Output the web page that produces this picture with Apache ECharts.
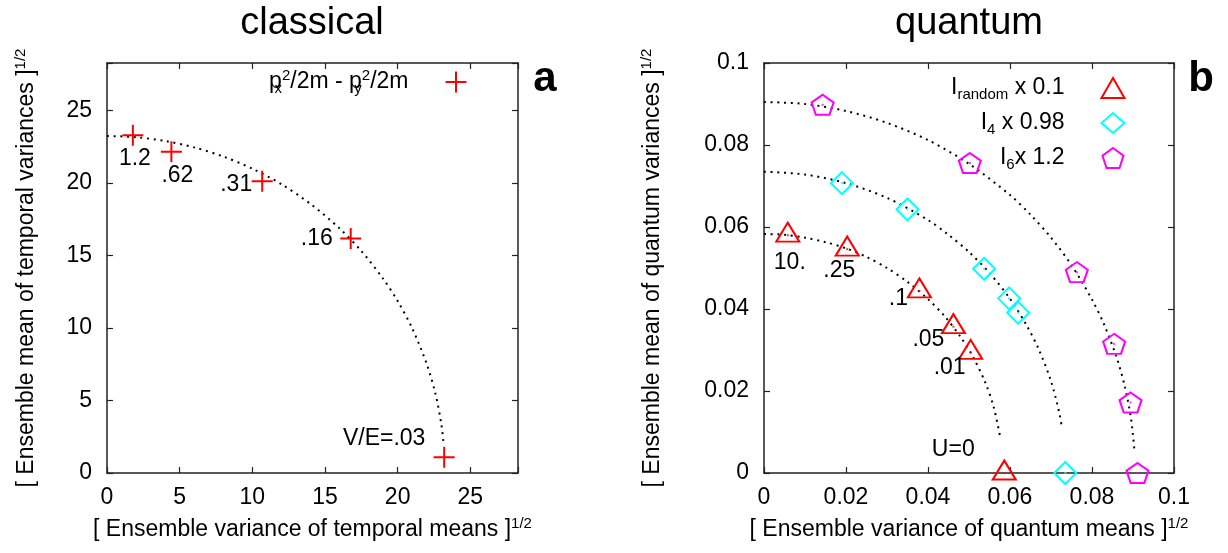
<!DOCTYPE html>
<html>
<head>
<meta charset="utf-8">
<script src="https://cdn.jsdelivr.net/npm/echarts@6/dist/echarts.min.js"></script>
<style>
  html, body { margin: 0; padding: 0; background: #fff; }
  #chart { width: 1228px; height: 553px; }
</style>
</head>
<body>
<div id="chart"></div>
<script>
const FONT = "Liberation Sans";

// panel a: classical
const classicalTicks = [0, 5, 10, 15, 20, 25];
const classicalX = [1.78, 4.43, 10.68, 16.77, 23.2];
const classicalY = [23.3, 22.16, 20.13, 16.17, 1.08];
const classicalLabels = ["1.2", ".62", ".31", ".16", "V/E=.03"];
const classicalArcX = [0, 2, 4, 6, 8, 10, 12, 14, 16, 17.5, 19, 20, 21, 22, 22.6, 23.0, 23.15];
const classicalArcY = [23.25, 23.16, 22.9, 22.46, 21.83, 20.99, 19.92, 18.56, 16.87, 15.31, 13.4, 11.86, 9.98, 7.52, 5.46, 3.41, 2.1];

// panel b: quantum
const quantumTicks = [0, 0.02, 0.04, 0.06, 0.08, 0.1];
const randomX = [0.0058, 0.0203, 0.0379, 0.0462, 0.0504, 0.0586];
const randomY = [0.058, 0.0546, 0.0444, 0.0357, 0.0294, 0];
const randomLabels = ["10.", ".25", ".1", ".05", ".01", "U=0"];
const i4X = [0.019, 0.035, 0.0537, 0.0598, 0.062, 0.0735];
const i4Y = [0.0707, 0.0643, 0.0498, 0.0426, 0.0391, 0];
const i6X = [0.0143, 0.0502, 0.0763, 0.0854, 0.0894, 0.0911];
const i6Y = [0.0898, 0.0756, 0.049, 0.0315, 0.0172, 0];
const randomArcX = [0, 0.005, 0.01, 0.015, 0.02, 0.025, 0.03, 0.035, 0.04, 0.044, 0.048, 0.051, 0.054, 0.056, 0.0576];
const randomArcY = [0.0583, 0.0581, 0.0574, 0.0563, 0.0548, 0.0527, 0.05, 0.0466, 0.0424, 0.0383, 0.0331, 0.0283, 0.022, 0.0162, 0.0088];
const i4ArcX = [0, 0.01, 0.02, 0.03, 0.04, 0.045, 0.05, 0.055, 0.06, 0.064, 0.067, 0.07, 0.072, 0.0727];
const i4ArcY = [0.0735, 0.0728, 0.0707, 0.0671, 0.0617, 0.0581, 0.0539, 0.0488, 0.0425, 0.0361, 0.0302, 0.0224, 0.0148, 0.0108];
const i6ArcX = [0, 0.01, 0.02, 0.03, 0.04, 0.05, 0.06, 0.065, 0.07, 0.075, 0.08, 0.083, 0.086, 0.088, 0.0895, 0.0903];
const i6ArcY = [0.0905, 0.09, 0.0883, 0.0854, 0.0812, 0.0754, 0.0678, 0.063, 0.0574, 0.0507, 0.0423, 0.0361, 0.0282, 0.0211, 0.0134, 0.006];

// where the point labels sit relative to their point (px)
const classicalLabelOffsets = [[2, 23], [6, 24], [-26, 3], [-34, 0], [-60, -19]];
const randomLabelOffsets = [[2, 30], [-8, 25], [-21, 11], [-25, 16], [-21, 18], [-51, -20]];

const legendNames = {
  pp: "p{sub0|x}{sup|2}/2m - p{sub0|y}{sup|2}/2m{gap|}",
  rand: "I{sub|random} x 0.1{gap|}",
  i4: "I{sub|4} x 0.98{gap|}",
  i6: "I{sub|6}x 1.2{gap|}",
};

const PLUS = "path://M0,10H20M10,0V20";
const PENTAGON = "path://M10,0L19.51,6.91L15.88,18.09L4.12,18.09L0.49,6.91Z";
const FS = 23;

const richText = {
  sup: { fontSize: 15, lineHeight: 14, verticalAlign: "top", fontFamily: FONT, color: "#000" },
  sub: { fontSize: 15, lineHeight: 12, verticalAlign: "bottom", fontFamily: FONT, color: "#000" },
  sub0: { fontSize: 15, lineHeight: 12, verticalAlign: "bottom", width: 0, fontFamily: FONT, color: "#000" },
  gap: { width: 32 },
};

function zip(xs, ys) {
  return xs.map((x, i) => [x, ys[i]]);
}

function tickFormatter(ticks) {
  return function (v) {
    const t = ticks.find((t) => Math.abs(t - v) < 1e-9);
    return t === undefined ? "" : String(t);
  };
}

function frameAxis(gridIndex, position, max, interval, ticks, showLabel) {
  return {
    type: "value",
    gridIndex: gridIndex,
    position: position,
    min: 0,
    max: max,
    interval: interval,
    axisLine: { show: true, onZero: false, lineStyle: { color: "#222", width: 1.5 } },
    axisTick: { show: true, inside: true, length: 6, lineStyle: { color: "#222", width: 1.2 } },
    axisLabel: {
      show: showLabel,
      margin: position === "bottom" ? 13 : 15,
      fontSize: FS,
      color: "#000",
      fontFamily: FONT,
      formatter: tickFormatter(ticks),
    },
    splitLine: { show: false },
  };
}

function axisName(text) {
  return {
    name: text + "{sup|1/2}",
    nameLocation: "middle",
    nameTextStyle: { fontSize: FS, lineHeight: 28, color: "#000", fontFamily: FONT, rich: richText },
  };
}

function arcSeries(xi, yi, xs, ys) {
  return {
    type: "line",
    xAxisIndex: xi,
    yAxisIndex: yi,
    data: zip(xs, ys),
    smooth: 0.3,
    showSymbol: false,
    silent: true,
    z: 1,
    lineStyle: { color: "#000", width: 2, type: [2, 4.7], cap: "butt" },
  };
}

function markerSeries(name, xi, yi, xs, ys, symbol, size, color, labels, offsets, symbolOffset) {
  return {
    name: name,
    type: "scatter",
    xAxisIndex: xi,
    yAxisIndex: yi,
    symbol: symbol,
    symbolSize: size,
    symbolOffset: symbolOffset || [0, 0],
    z: 3,
    itemStyle: { color: "none", borderColor: color, borderWidth: 2, opacity: 1 },
    data: xs.map((x, i) => {
      const item = { value: [x, ys[i]] };
      if (labels) {
        item.label = {
          show: true,
          position: "inside",
          formatter: labels[i],
          offset: offsets[i],
          fontSize: FS,
          color: "#000",
          fontFamily: FONT,
        };
      }
      return item;
    }),
  };
}

function dotSeries(xi, yi, xs, ys, color) {
  return {
    type: "scatter",
    xAxisIndex: xi,
    yAxisIndex: yi,
    symbol: "rect",
    symbolSize: 2,
    silent: true,
    z: 4,
    itemStyle: { color: color },
    data: zip(xs, ys),
  };
}

const classicalMax = 28.28;
const quantumMax = 0.1;

const xAxes = [
  Object.assign(frameAxis(0, "bottom", classicalMax, 5, classicalTicks, true), axisName("[ Ensemble variance of temporal means ]"), { nameGap: 43 }),
  frameAxis(0, "top", classicalMax, 5, classicalTicks, false),
  Object.assign(frameAxis(1, "bottom", quantumMax, 0.02, quantumTicks, true), axisName("[ Ensemble variance of quantum means ]"), { nameGap: 43 }),
  frameAxis(1, "top", quantumMax, 0.02, quantumTicks, false),
];
const yAxes = [
  Object.assign(frameAxis(0, "left", classicalMax, 5, classicalTicks, true), axisName("[ Ensemble mean of temporal variances ]"), { nameGap: 66, nameRotate: 90 }),
  frameAxis(0, "right", classicalMax, 5, classicalTicks, false),
  Object.assign(frameAxis(1, "left", quantumMax, 0.02, quantumTicks, true), axisName("[ Ensemble mean of quantum variances ]"), { nameGap: 97, nameRotate: 90 }),
  frameAxis(1, "right", quantumMax, 0.02, quantumTicks, false),
];

const legendText = {
  fontSize: FS,
  lineHeight: 28,
  color: "#000",
  fontFamily: FONT,
  rich: richText,
};

const titleStyle = { fontSize: 38, fontWeight: "normal", color: "#000", fontFamily: FONT };
const panelTagStyle = { fontSize: 42, fontWeight: "bold", color: "#000", fontFamily: FONT };

const option = {
  animation: false,
  backgroundColor: "#fff",
  title: [
    { text: "classical", left: 312, top: 5, textAlign: "center", padding: 0, textStyle: titleStyle },
    { text: "quantum", left: 969, top: 5, textAlign: "center", padding: 0, textStyle: titleStyle },
    { text: "a", left: 545, top: 58, textAlign: "center", padding: 0, textStyle: panelTagStyle },
    { text: "b", left: 1201, top: 58, textAlign: "center", padding: 0, textStyle: panelTagStyle },
  ],
  grid: [
    { left: 107, top: 63, width: 411, height: 410 },
    { left: 764, top: 63, width: 410, height: 410 },
  ],
  legend: [
    {
      data: ["pp"],
      orient: "vertical",
      align: "right",
      right: 759,
      top: 68,
      padding: 0,
      itemWidth: 21,
      itemHeight: 21,
      selectedMode: false,
      formatter: (name) => legendNames[name],
      textStyle: legendText,
    },
    {
      data: ["rand", "i4", "i6"],
      orient: "vertical",
      align: "right",
      right: 101,
      top: 74,
      padding: 0,
      itemGap: 7,
      itemWidth: 23,
      itemHeight: 20,
      selectedMode: false,
      formatter: (name) => legendNames[name],
      textStyle: legendText,
    },
  ],
  xAxis: xAxes,
  yAxis: yAxes,
  series: [
    arcSeries(0, 0, classicalArcX, classicalArcY),
    arcSeries(2, 2, randomArcX, randomArcY),
    arcSeries(2, 2, i4ArcX, i4ArcY),
    arcSeries(2, 2, i6ArcX, i6ArcY),
    markerSeries("pp", 0, 0, classicalX, classicalY, PLUS, 21, "#ff0000", classicalLabels, classicalLabelOffsets),
    markerSeries("rand", 2, 2, randomX, randomY, "triangle", [23, 19], "#ff0000", randomLabels, randomLabelOffsets, [0, -3]),
    markerSeries("i4", 2, 2, i4X, i4Y, "diamond", [22, 22], "#00ffff"),
    markerSeries("i6", 2, 2, i6X, i6Y, PENTAGON, [22, 20], "#ff00ff"),
    dotSeries(2, 2, randomX, randomY, "#ff0000"),
    dotSeries(2, 2, i4X, i4Y, "#00ffff"),
    dotSeries(2, 2, i6X, i6Y, "#ff00ff"),
  ],
};

const chart = echarts.init(document.getElementById("chart"), null, { renderer: "canvas" });
chart.setOption(option);
</script>
</body>
</html>
